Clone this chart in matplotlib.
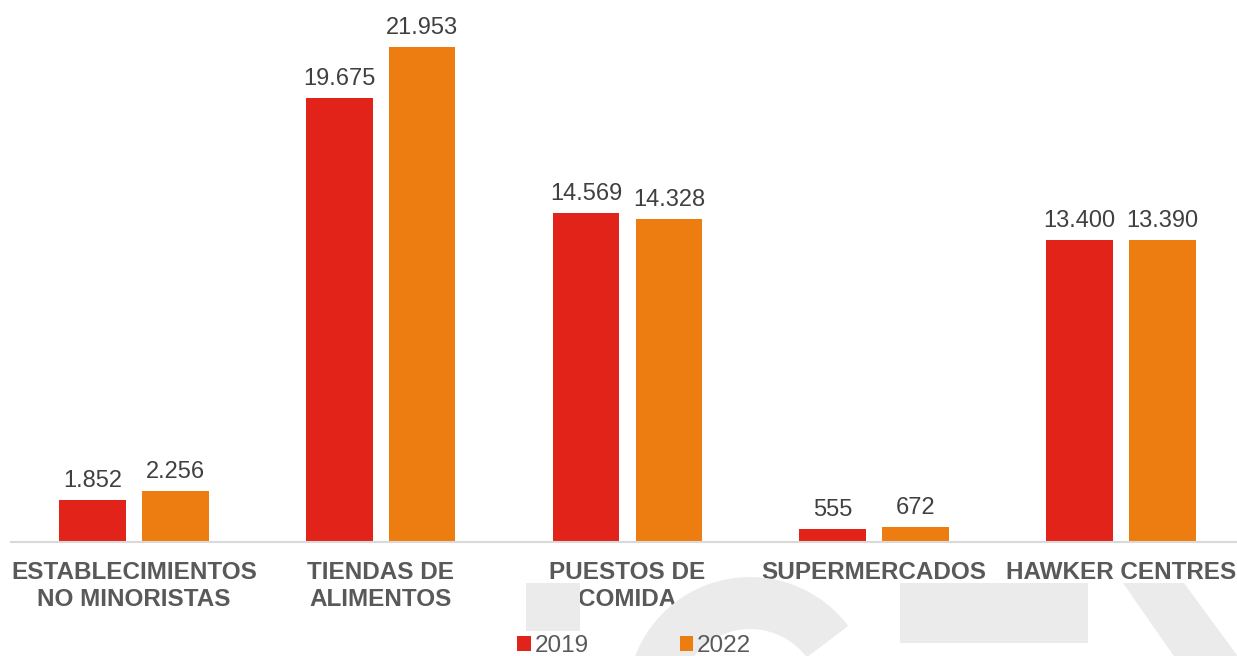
import matplotlib.pyplot as plt
import numpy as np
from matplotlib.patches import Rectangle, Wedge, Polygon

plt.rcParams['font.family'] = ['Liberation Sans', 'DejaVu Sans']

categories = ['ESTABLECIMIENTOS\nNO MINORISTAS', 'TIENDAS DE\nALIMENTOS', 'PUESTOS DE\nCOMIDA',
              'SUPERMERCADOS', 'HAWKER CENTRES']
years = ['2019', '2022']
vals_2019 = [1852, 19675, 14569, 555, 13400]
vals_2022 = [2256, 21953, 14328, 672, 13390]
cols = ['#E2231A', '#EE7D11']

W, H = 1237, 656
fig = plt.figure(figsize=(W / 100, H / 100), dpi=100)

# light grey watermark shapes behind the chart (pixel coords)
grey = '#EBEBEB'
def px(x, y):
    return (x / W, 1 - y / H)
wm = [Rectangle(px(526, 631), 54 / W, 48 / H),
      Rectangle(px(900, 643), 188 / W, 60 / H),
      Polygon([px(1123, 583), px(1184, 583), px(1242, 662), px(1178, 662)])]
for p in wm:
    p.set_facecolor(grey)
    p.set_edgecolor('none')
    p.set_transform(fig.transFigure)
    fig.patches.append(p)
arc = Wedge((750, H - 700), 123, 37, 205, width=52, facecolor=grey, edgecolor='none',
            transform=None)
fig.patches.append(arc)

x0 = 10.6
slot = 246.75
ax = fig.add_axes([x0 / W, (H - 542) / H, 5 * slot / W, 542 / H])
ax.patch.set_visible(False)

x = np.arange(len(categories))
bw = 0.27
off = 0.168
for i, (vals, lab) in enumerate(zip([vals_2019, vals_2022], years)):
    pos = x + (-off if i == 0 else off)
    bars = ax.bar(pos, vals, width=bw, color=cols[i], label=lab, zorder=2)
    for b, v in zip(bars, vals):
        ax.annotate('{:,}'.format(v).replace(',', '.'), (b.get_x() + b.get_width() / 2, v),
                    xytext=(0, 6), textcoords='offset points', ha='center', va='bottom',
                    fontsize=17, color='#404040')

ax.set_xlim(-0.5, 4.5)
ax.set_ylim(0, 24037)
ax.set_yticks([])
ax.set_xticks(x)
ax.set_xticklabels(categories, fontsize=17.5, fontweight='bold', color='#595959', linespacing=1.2)
ax.tick_params(axis='x', length=0, pad=14)
for s in ['top', 'left', 'right']:
    ax.spines[s].set_visible(False)
ax.spines['bottom'].set_color('#D9D9D9')
ax.spines['bottom'].set_linewidth(1.5)

leg = fig.legend(loc='center', bbox_to_anchor=(634 / W, 1 - 646 / H), ncol=2, frameon=False,
                 fontsize=17.5, handlelength=0.55, handleheight=0.55, handletextpad=0.15,
                 columnspacing=3.75, borderpad=0)
for t in leg.get_texts():
    t.set_color('#595959')

fig.savefig('out.png', dpi=100)
